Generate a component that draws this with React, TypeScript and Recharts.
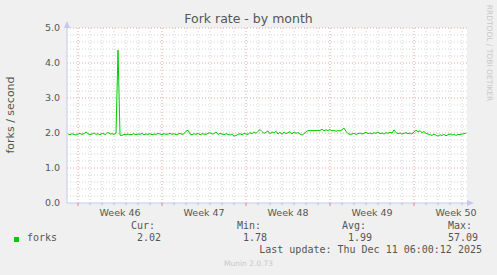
import { LineChart, Line, XAxis, YAxis, CartesianGrid } from "recharts";

// forks per second, one sample every 4 hours over the month
const forks = [
  1.97, 1.95, 1.98, 1.96, 1.94, 1.97, 1.99, 1.96, 1.98, 2.03,
  1.98, 1.95, 1.97, 2.0, 1.96, 1.98, 1.95, 1.99, 1.97, 1.96,
  2.02, 1.97, 1.98, 1.96, 1.99, 4.37, 1.94, 1.93, 1.96, 1.95,
  1.97, 1.95, 1.96, 1.98, 1.95, 1.97, 1.96, 1.99, 1.95, 1.97,
  1.96, 1.98, 1.95, 1.97, 1.96, 1.99, 1.97, 1.95, 1.98, 1.96,
  1.97, 1.99, 1.96, 1.98, 1.95, 1.97, 1.99, 1.96, 1.98, 2.05,
  2.08, 1.97, 1.95, 1.98, 1.96, 1.99, 1.95, 1.98, 1.97, 1.96,
  1.99, 2.01, 1.97, 1.98, 2.03, 1.96, 1.99, 1.97, 1.95, 1.98,
  1.96, 1.94, 1.97, 1.91, 1.93, 1.96, 1.98, 1.95, 1.99, 1.97,
  1.96, 2.01, 1.98, 2.03, 1.99, 2.05, 2.1, 2.04, 1.99, 2.02,
  2.06, 1.98, 2.03, 2.0, 2.05, 1.97, 2.02, 1.96, 2.03, 1.98,
  2.01, 2.04, 1.97, 2.03, 1.99, 2.01, 1.97, 1.94, 1.98, 2.03,
  2.07, 2.07, 2.07, 2.07, 2.07, 2.08, 2.07, 2.11, 2.06, 2.09,
  2.07, 2.1, 2.06, 2.08, 2.05, 2.07, 2.06, 2.09, 2.14, 2.05,
  1.98, 1.96, 1.97, 1.99, 1.96, 1.98, 2.0, 1.97, 1.99, 2.02,
  1.98, 2.0, 1.97, 2.01, 1.99, 2.03, 1.98, 2.0, 1.97, 2.01,
  1.99, 2.02, 2.0, 2.09, 2.01, 1.98, 2.0, 1.97, 1.99, 2.01,
  1.98, 2.0, 1.97, 2.03, 2.08, 2.04, 2.06, 2.01, 2.04, 1.99,
  1.97, 1.95, 1.93, 1.97, 1.94, 1.91, 1.95, 1.93, 1.96, 1.92,
  1.95, 1.97, 1.94, 1.96, 1.93, 1.96, 1.95, 1.97, 1.98, 2.0,
];

const weekLabels = ["Week 46", "Week 47", "Week 48", "Week 49", "Week 50"];
const weekStarts = [0.92, 7.92, 14.92, 21.92, 28.92]; // days from start
const yMajor = [0, 1, 2, 3, 4, 5];
const statLabels = ["Cur:", "Min:", "Avg:", "Max:"];
const statValues = ["2.02", "1.78", "1.99", "57.09"];
const statEnds = [161, 267, 372, 478];

const DAYS = 100 / 3;
const data = forks.map((v, i) => ({ t: (1 + 2 * i) / 12, forks: v }));

const dayLines: number[] = [];
for (let d = weekStarts[0]; d < DAYS; d += 1) dayLines.push(+d.toFixed(2));
const minorDays = dayLines.filter((d) => !weekStarts.includes(d));
const minorY: number[] = [];
for (let k = 1; k < 25; k++) if (k % 5 !== 0) minorY.push(k / 5);
const labelPos = weekStarts.map((d) => d + 3.5);
const xTicks = [...dayLines, ...labelPos];

const AXIS = "#c4c8f4";
const TEXT = "#555";
const SANS = "'DejaVu Sans', sans-serif";
const MONO = "'DejaVu Sans Mono', monospace";

function XTick(props: any) {
  const { x, y, payload } = props;
  const v = payload.value;
  const li = labelPos.findIndex((p) => Math.abs(p - v) < 0.01);
  if (li >= 0) {
    return (
      <text x={x} y={y + 13} textAnchor="middle" fill={TEXT} fontSize={9.5} fontFamily={SANS}>
        {weekLabels[li]}
      </text>
    );
  }
  const major = weekStarts.some((w) => Math.abs(w - v) < 0.01);
  return <line x1={x} x2={x} y1={y} y2={y + (major ? 3 : 2)} stroke={major ? "#e08080" : "#bbb"} />;
}

export default function App() {
  return (
    <div
      style={{
        position: "fixed",
        left: 0,
        top: 0,
        width: 497,
        height: 275,
        background: "#f0f0f0",
        fontFamily: SANS,
      }}
    >
      <LineChart width={497} height={275} data={data} margin={{ top: 28, right: 30, bottom: 52, left: 0 }}>
        <CartesianGrid
          fill="#fff"
          stroke="#d4d4d4"
          strokeDasharray="1 2"
          horizontalValues={minorY}
          verticalValues={minorDays}
        />
        <CartesianGrid
          stroke="#eba4a4"
          strokeDasharray="1 2"
          horizontalValues={yMajor.slice(1)}
          verticalValues={weekStarts}
        />
        <XAxis
          type="number"
          dataKey="t"
          domain={[0, DAYS]}
          allowDataOverflow
          ticks={xTicks}
          interval={0}
          tickLine={false}
          tickSize={0}
          tickMargin={0}
          height={20}
          axisLine={{ stroke: AXIS }}
          tick={<XTick />}
        />
        <YAxis
          type="number"
          domain={[0, 5]}
          ticks={yMajor}
          interval={0}
          width={67}
          tickLine={false}
          tickSize={0}
          tickMargin={7}
          axisLine={{ stroke: AXIS }}
          tickFormatter={(v) => v.toFixed(1)}
          tick={{ fill: TEXT, fontSize: 9.5, fontFamily: SANS }}
        />
        <Line
          type="linear"
          dataKey="forks"
          stroke="#00cc00"
          strokeWidth={1}
          dot={false}
          isAnimationActive={false}
        />
      </LineChart>

      <svg width={497} height={275} style={{ position: "absolute", left: 0, top: 0, pointerEvents: "none" }}>
        <polygon points="64,28 70,28 67,21" fill={AXIS} />
        <polygon points="467,200 467,206 474,203" fill={AXIS} />
      </svg>

      <div style={{ position: "absolute", left: 0, width: 497, top: 11, textAlign: "center", fontSize: 12.5, color: TEXT }}>
        Fork rate - by month
      </div>
      <div
        style={{
          position: "absolute",
          left: 10,
          top: 115,
          transform: "translate(-50%, -50%) rotate(-90deg)",
          whiteSpace: "nowrap",
          fontSize: 11,
          color: TEXT,
        }}
      >
        forks / second
      </div>
      <div
        style={{
          position: "absolute",
          left: 488.5,
          top: 53,
          transform: "translate(-50%, -50%) rotate(90deg)",
          whiteSpace: "nowrap",
          fontSize: 7.5,
          color: "#c8c8c8",
        }}
      >
        RRDTOOL / TOBI OETIKER
      </div>

      <div style={{ position: "absolute", left: 14, top: 237, width: 5, height: 5, background: "#00cc00" }} />
      <div style={{ position: "absolute", left: 27, top: 232, fontFamily: MONO, fontSize: 10, color: TEXT }}>forks</div>
      {statLabels.map((l, i) => (
        <div
          key={l}
          style={{ position: "absolute", right: 497 - statEnds[i] + 6, top: 220, fontFamily: MONO, fontSize: 10, color: TEXT }}
        >
          {l}
        </div>
      ))}
      {statValues.map((v, i) => (
        <div
          key={i}
          style={{ position: "absolute", right: 497 - statEnds[i], top: 232, fontFamily: MONO, fontSize: 10, color: TEXT }}
        >
          {v}
        </div>
      ))}
      <div style={{ position: "absolute", right: 497 - 482, top: 244, fontFamily: MONO, fontSize: 10, color: TEXT, whiteSpace: "pre" }}>
        Last update: Thu Dec 11 06:00:12 2025
      </div>
      <div style={{ position: "absolute", left: 0, width: 497, top: 259, textAlign: "center", fontSize: 7.5, color: "#c8c8c8" }}>
        Munin 2.0.73
      </div>
    </div>
  );
}
